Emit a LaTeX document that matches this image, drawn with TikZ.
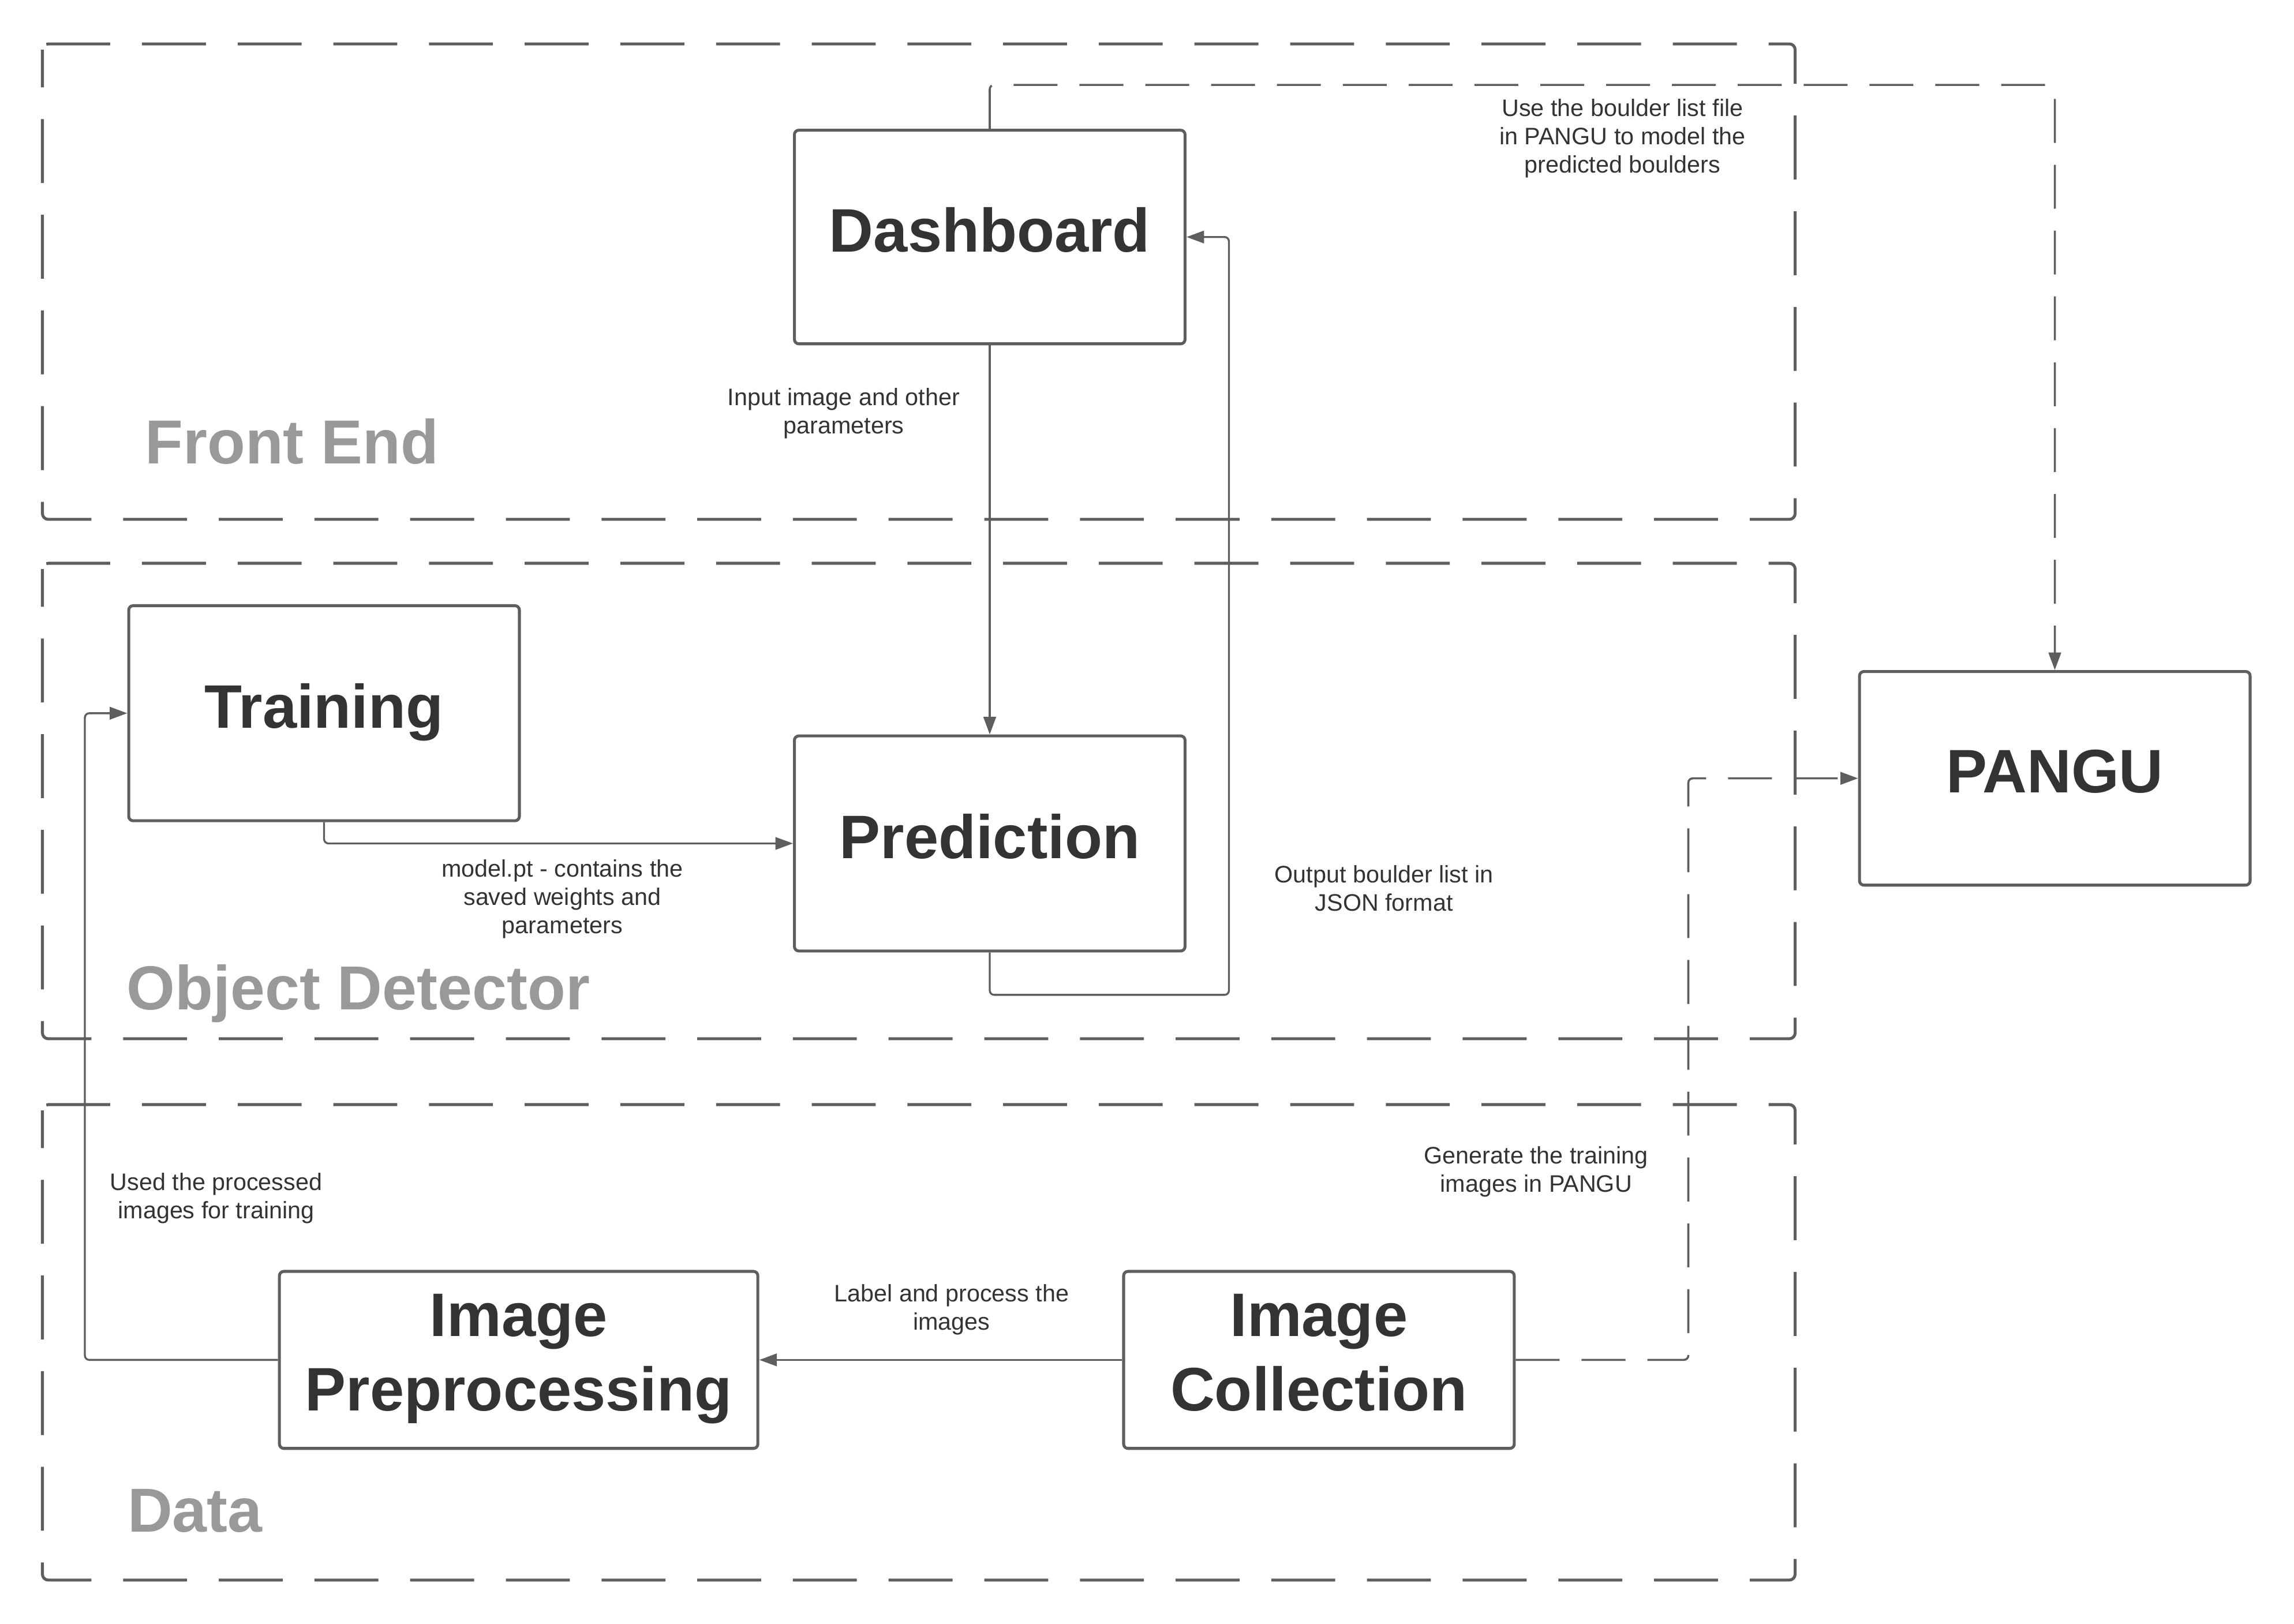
\documentclass[tikz,border=0pt]{standalone}
\usepackage{fontspec}
\setmainfont{Liberation Sans}
\usetikzlibrary{arrows.meta}
\definecolor{linegray}{HTML}{5E5E5E}
\definecolor{txtgray}{HTML}{333333}
\definecolor{ttlgray}{HTML}{999999}
\begin{document}
\begin{tikzpicture}[x=1pt,y=-1pt,>={Triangle[length=12pt,width=8.5pt]},
    group/.style={draw=linegray,line width=2pt,rounded corners=4pt,dash pattern=on 43.7pt off 21.7pt,dash phase=18pt},
    title/.style={anchor=base west,inner sep=0pt,text=ttlgray,font=\fontsize{42.5}{50}\selectfont\bfseries},
    block/.style={draw=linegray,line width=2pt,rounded corners=3pt,inner sep=0pt,text depth=10pt,text=txtgray,align=center,font=\fontsize{42}{51}\selectfont\bfseries},
    note/.style={inner sep=0pt,text=txtgray,align=center,font=\fontsize{16.3}{19.4}\selectfont},
    conn/.style={->,draw=linegray,line width=1.3pt,rounded corners=3pt},
    link/.style={conn,line width=1.4pt,dash pattern=on 30pt off 15pt}]
    \useasboundingbox (0,0) rectangle (1568,1109.7);
    % layers
    \draw [group] (29,30) rectangle (1227,355);
    \draw [group] (29,385) rectangle (1227,710);
    \draw [group] (29,755) rectangle (1227,1080);
    \node [title] (feTitle) at (99,317) {Front End};
    \node [title] (odTitle) at (86.5,690) {Object Detector};
    \node [title] (dataTitle) at (87,1047) {Data};
    % blocks
    \node [block,minimum width=267pt,minimum height=146pt] (dash) at (676.5,162) {Dashboard};
    \node [block,minimum width=267pt,minimum height=147pt] (train) at (221.5,487.5) {Training};
    \node [block,minimum width=267pt,minimum height=147pt] (pred) at (676.5,576.5) {Prediction};
    \node [block,minimum width=267pt,minimum height=146pt] (pangu) at (1404.5,532) {PANGU};
    \node [block,minimum width=327pt,minimum height=121pt] (prep) at (354.5,929.5) {Image\\Preprocessing};
    \node [block,minimum width=267pt,minimum height=121pt] (coll) at (901.5,929.5) {Image\\Collection};
    % bends
    \coordinate (loopR) at (840,680);
    \coordinate (topR) at (1404.5,58);
    \coordinate (genR) at (1154,532);
    \coordinate (useL) at (58,487.5);
    % connectors
    \draw [conn] (dash.south)--(pred.north);
    \draw [conn] (train.south) |- (pred.west);
    \draw [conn] (pred.south) |- (loopR) |- (dash.east);
    \draw [link] (dash.north) |- (topR)--(pangu.north);
    \draw [link] (coll.east) -| (genR)--(pangu.west);
    \draw [conn] (coll.west)--(prep.east);
    \draw [conn] (prep.west) -| (useL)--(train.west);
    % labels
    \node [note] (inLbl) at (576.7,282.7) {Input image and other\\parameters};
    \node [note] (modelLbl) at (384.4,614.4) {model.pt - contains the\\saved weights and\\parameters};
    \node [note] (outLbl) at (946,607.3) {Output boulder list in\\JSON format};
    \node [note] (useLbl) at (1109,94.6) {Use the boulder list file\\in PANGU to model the\\predicted boulders};
    \node [note] (genLbl) at (1050,801) {Generate the training\\images in PANGU};
    \node [note] (procLbl) at (650.4,895) {Label and process the\\images};
    \node [note] (trainLbl) at (147.7,819) {Used the processed\\images for training};
\end{tikzpicture}
\end{document}
